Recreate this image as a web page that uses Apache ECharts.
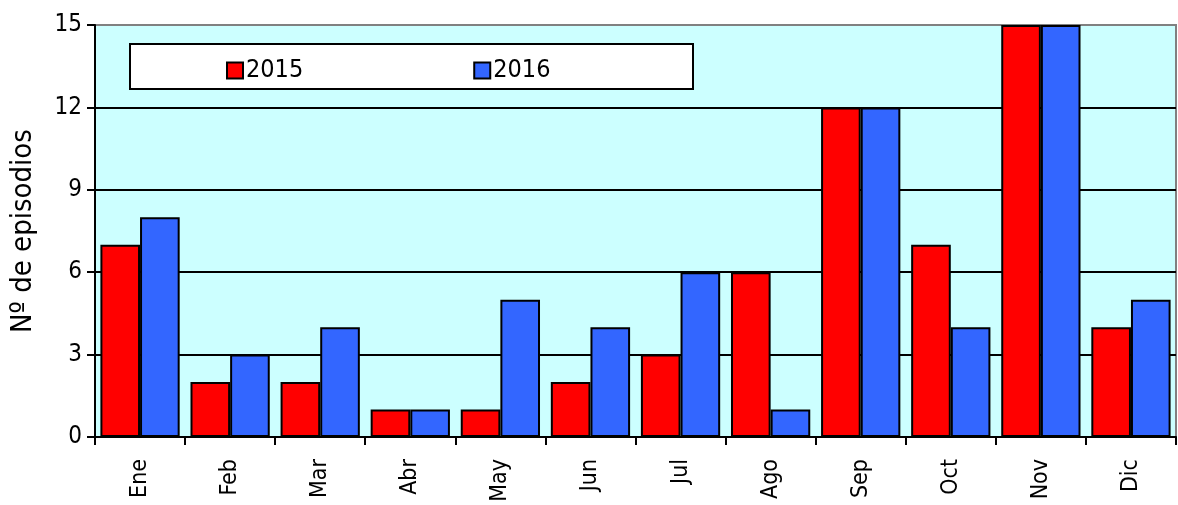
<!DOCTYPE html>
<html><head><meta charset="utf-8">
<script src="https://cdn.jsdelivr.net/npm/echarts@6/dist/echarts.min.js"></script>
<style>html,body{margin:0;padding:0;background:#fff}#c{width:1178px;height:505px}</style>
</head><body><div id="c"></div>
<script>
const categories = ['Ene','Feb','Mar','Abr','May','Jun','Jul','Ago','Sep','Oct','Nov','Dic'];
const values2015 = [7,2,2,1,1,2,3,6,12,7,15,4];
const values2016 = [8,3,4,1,5,4,6,1,12,4,15,5];
const yTicks = [0,3,6,9,12,15];
const FONT = '"DejaVu Sans Condensed", "DejaVu Sans", sans-serif';
const chart = echarts.init(document.getElementById('c'));
chart.setOption({
  animation:false,
  textStyle:{fontFamily:FONT},
  grid:{left:95,right:2,top:25,bottom:68,show:true,backgroundColor:'#CCFFFF',borderColor:'#808080',borderWidth:2},
  graphic:[{type:'rect',left:129,top:43,shape:{width:563,height:45},style:{fill:'#fff',stroke:'#000',lineWidth:2},z:10}],
  legend:{left:221,top:53,itemWidth:16,itemHeight:16,itemGap:170,z:20,icon:'rect',
    textStyle:{fontSize:25,color:'#000',fontFamily:FONT,padding:[0,0,0,-2]},
    data:[{name:'2015',itemStyle:{borderColor:'#000',borderWidth:2}},{name:'2016',itemStyle:{borderColor:'#000',borderWidth:2}}]},
  xAxis:{type:'category',data:categories,
    axisLine:{lineStyle:{color:'#000',width:2}},
    axisTick:{show:true,alignWithLabel:false,length:8,lineStyle:{color:'#000',width:2}},
    axisLabel:{rotate:90,fontSize:23,color:'#000',margin:22,fontFamily:FONT}},
  yAxis:{type:'value',min:0,max:15,interval:3,
    name:'Nº de episodios',nameLocation:'middle',nameGap:57,
    nameTextStyle:{fontSize:29,color:'#000',fontFamily:FONT},
    axisLine:{show:true,lineStyle:{color:'#000',width:2}},
    axisTick:{show:true,length:8,lineStyle:{color:'#000',width:2}},
    axisLabel:{fontSize:24,color:'#000',margin:13,fontFamily:FONT},
    splitLine:{lineStyle:{color:['#000','#000','#000','#000','#000','#808080'],width:2}}},
  series:[
    {name:'2015',type:'bar',data:values2015,barGap:'0%',barCategoryGap:'12%',
     itemStyle:{color:'#FF0000',borderColor:'#000',borderWidth:2}},
    {name:'2016',type:'bar',data:values2016,
     itemStyle:{color:'#3366FF',borderColor:'#000',borderWidth:2}}
  ]
});
</script></body></html>
